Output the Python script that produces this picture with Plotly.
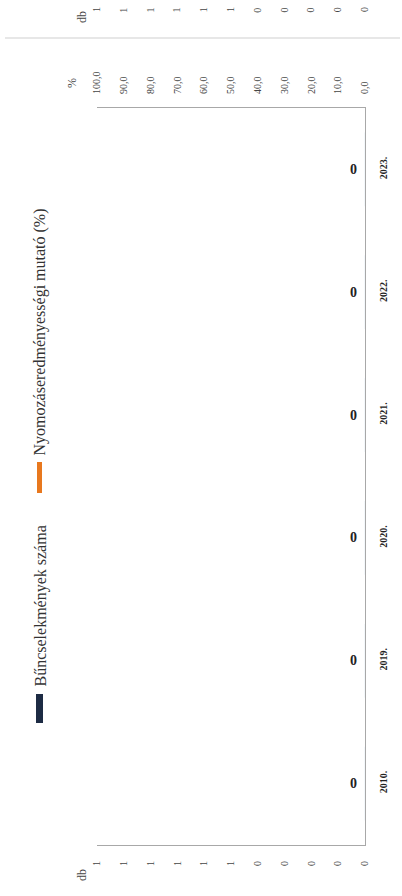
import plotly.graph_objects as go

# ---- data ----
years = ["2010.", "2019.", "2020.", "2021.", "2022.", "2023."]
crime_counts = [0, 0, 0, 0, 0, 0]
clearance_pct = [None, None, None, None, None, None]
bar_labels = ["0", "0", "0", "0", "0", "0"]

db_tick_vals = [0.0, 0.1, 0.2, 0.3, 0.4, 0.5, 0.6, 0.7, 0.8, 0.9, 1.0]
db_tick_text = ["0", "0", "0", "0", "0", "1", "1", "1", "1", "1", "1"]
pct_tick_vals = [0, 10, 20, 30, 40, 50, 60, 70, 80, 90, 100]
pct_tick_text = ["0,0", "10,0", "20,0", "30,0", "40,0", "50,0", "60,0", "70,0", "80,0", "90,0", "100,0"]

series_names = ["Bűncselekmények száma", "Nyomozáseredményességi mutató (%)"]
navy = "#1d2b44"
orange = "#e8781e"
serif = "Liberation Serif"

# ---- layout geometry (pixels) ----
W, H = 402, 896
L, R, T, B = 97, 365, 108, 845


def px_x(p):
    return (p - L) / (R - L)


def px_y(p):
    return (B - p) / (B - T)


fig = go.Figure()
fig.add_trace(go.Bar(
    y=years, x=crime_counts, orientation="h", name=series_names[0],
    marker_color=navy, xaxis="x", yaxis="y",
))
fig.add_trace(go.Scatter(
    y=years, x=clearance_pct, mode="lines", name=series_names[1],
    line=dict(color=orange, width=3), xaxis="x2", yaxis="y",
))

axis_line = "#a8a8a8"
fig.update_layout(
    width=W, height=H,
    margin=dict(l=L, r=W - R, t=T, b=H - B),
    paper_bgcolor="white", plot_bgcolor="white",
    showlegend=False, bargap=0.4,
    font=dict(family=serif, color="#333"),
    xaxis=dict(
        range=[1.0, 0.0], tickvals=db_tick_vals, ticktext=db_tick_text,
        tickangle=-90, tickfont=dict(family=serif, size=10, color="#444"),
        showgrid=False, zeroline=False, showline=True, linecolor=axis_line,
        linewidth=1, ticks="", side="bottom", ticklabelstandoff=11,
    ),
    xaxis2=dict(
        range=[100, 0], tickvals=pct_tick_vals, ticktext=pct_tick_text,
        tickangle=-90, tickfont=dict(family=serif, size=10, color="#444"),
        showgrid=False, zeroline=False, showline=True, linecolor=axis_line,
        linewidth=1, ticks="", side="top", overlaying="x", anchor="y",
        ticklabelstandoff=11,
    ),
    yaxis=dict(
        type="category", categoryorder="array", categoryarray=years, side="right",
        range=[-0.5, len(years) - 0.5],
        tickangle=-90, tickfont=dict(family=serif, size=10, color="#222", weight="bold"),
        showgrid=False, zeroline=False, showline=True, linecolor=axis_line,
        linewidth=1, ticks="", ticklabelstandoff=9,
    ),
)


def rot_text(text, x, y, size, xref="paper", yref="paper", **kw):
    return dict(text=text, x=x, y=y, xref=xref, yref=yref, xanchor="center",
                yanchor="middle", showarrow=False, textangle=-90,
                font=dict(family=serif, size=size, color="#444"), **kw)


annotations = []
# value labels of the bars (y given as category index on the category axis)
for i, (v, lab) in enumerate(zip(crime_counts, bar_labels)):
    annotations.append(dict(text=lab, x=v, y=i, xref="x", yref="y",
                            xanchor="center", yanchor="middle", xshift=-12, showarrow=False,
                            font=dict(family=serif, size=14, color="#222", weight="bold")))
# axis titles
annotations.append(rot_text("db", px_x(82), px_y(875), 12))
annotations.append(rot_text("%", px_x(72), px_y(83), 12))
# legend texts
annotations.append(dict(text=series_names[0], x=px_x(40), y=px_y(689), xref="paper", yref="paper",
                        xanchor="center", yanchor="bottom", showarrow=False, textangle=-90,
                        font=dict(family=serif, size=16, color="#333")))
annotations.append(dict(text=series_names[1], x=px_x(40), y=px_y(458), xref="paper", yref="paper",
                        xanchor="center", yanchor="bottom", showarrow=False, textangle=-90,
                        font=dict(family=serif, size=16, color="#333")))
# fragment of the neighbouring chart's axis at the very top
annotations.append(rot_text("db", px_x(82), px_y(17), 12))
for v, t in zip(db_tick_vals, db_tick_text):
    annotations.append(rot_text(t, v, px_y(10), 10, xref="x"))
fig.update_layout(annotations=annotations)

shapes = [
    # legend swatches
    dict(type="rect", xref="paper", yref="paper", x0=px_x(36), x1=px_x(43),
         y0=px_y(723), y1=px_y(694), fillcolor=navy, line=dict(width=0)),
    dict(type="line", xref="paper", yref="paper", x0=px_x(39.5), x1=px_x(39.5),
         y0=px_y(493), y1=px_y(462), line=dict(color=orange, width=5)),
    # separator line at the top of the page
    dict(type="line", xref="paper", yref="paper", x0=px_x(5), x1=px_x(400),
         y0=px_y(38), y1=px_y(38), line=dict(color="#cfcfcf", width=1)),
]
fig.update_layout(shapes=shapes)

fig.write_html("out.html", config={"displayModeBar": False},
               post_script="document.body.style.margin='0';")
